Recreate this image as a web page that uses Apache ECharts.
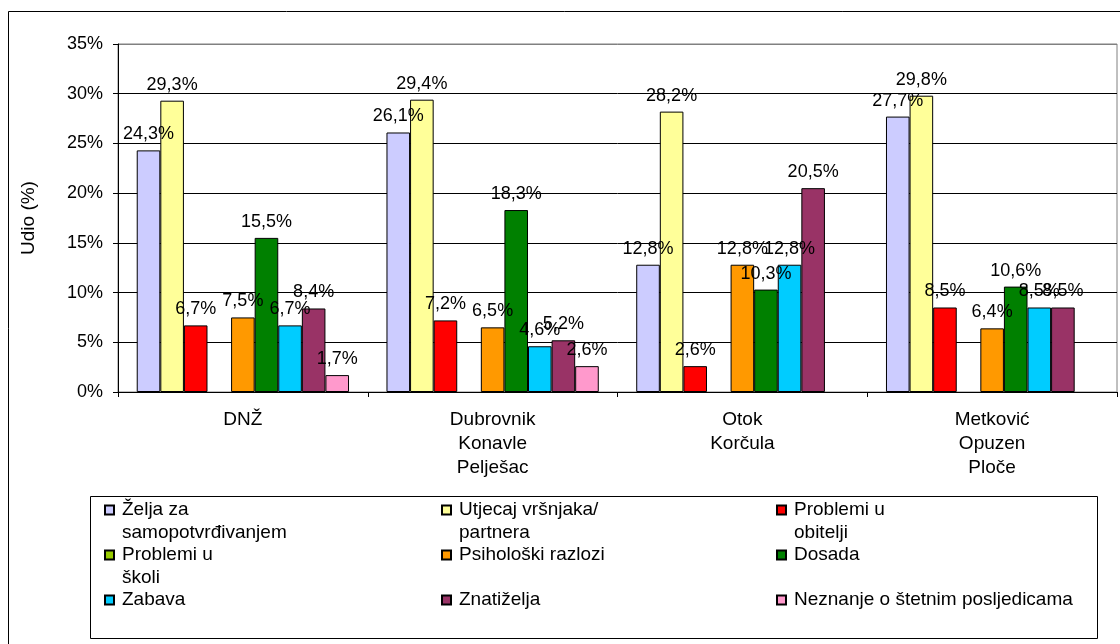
<!DOCTYPE html>
<html>
<head>
<meta charset="utf-8">
<script src="https://cdn.jsdelivr.net/npm/echarts@6/dist/echarts.min.js"></script>
<style>
  html, body { margin: 0; padding: 0; background: #fff; }
  #chart { width: 1120px; height: 644px; }
</style>
</head>
<body>
<div id="chart"></div>
<script>
// categories (regions)
var categories = ['DNŽ', 'Dubrovnik\nKonavle\nPelješac', 'Otok\nKorčula', 'Metković\nOpuzen\nPloče'];

// series names + wrapped legend text
var seriesNames = [
  'Želja za samopotvrđivanjem', 'Utjecaj vršnjaka/partnera', 'Problemi u obitelji',
  'Problemi u školi', 'Psihološki razlozi', 'Dosada',
  'Zabava', 'Znatiželja', 'Neznanje o štetnim posljedicama'
];
var legendText = [
  'Želja za\nsamopotvrđivanjem', 'Utjecaj vršnjaka/\npartnera', 'Problemi u\nobitelji',
  'Problemi u\nškoli', 'Psihološki razlozi', 'Dosada',
  'Zabava', 'Znatiželja', 'Neznanje o štetnim posljedicama'
];

// values in % per region
var zelja      = [24.3, 26.1, 12.8, 27.7];
var utjecaj    = [29.3, 29.4, 28.2, 29.8];
var obitelj    = [6.7, 7.2, 2.6, 8.5];
var skola      = [null, null, null, null];
var psiholoski = [7.5, 6.5, 12.8, 6.4];
var dosada     = [15.5, 18.3, 10.3, 10.6];
var zabava     = [6.7, 4.6, 12.8, 8.5];
var znatizelja = [8.4, 5.2, 20.5, 8.5];
var neznanje   = [1.7, 2.6, null, null];

var seriesData = [zelja, utjecaj, obitelj, skola, psiholoski, dosada, zabava, znatizelja, neznanje];
var colors = ['#CCCCFF', '#FFFF99', '#FF0000', '#99CC00', '#FF9900', '#008000', '#00CCFF', '#993366', '#FF99CC'];

var yTicks = [0, 5, 10, 15, 20, 25, 30, 35];

var font = "'Liberation Sans', Arial, sans-serif";

var chart = echarts.init(document.getElementById('chart'));

var series = [];
for (var i = 0; i < seriesData.length; i++) {
  series.push({
    name: seriesNames[i],
    type: 'bar',
    data: seriesData[i],
    barGap: 0,
    barCategoryGap: '15%',
    itemStyle: { color: colors[i], borderColor: '#000', borderWidth: 1 },
    label: {
      show: true,
      position: 'top',
      distance: 7,
      color: '#000',
      fontSize: 18,
      fontFamily: font,
      formatter: function (p) {
        return p.value.toFixed(1).replace('.', ',') + '%';
      }
    }
  });
}

// legend: one component per item so the 3 columns line up like the original
var colX = [104, 441, 776];
var rowY = [510, 555, 600];
var lineH = 22.5;
var legends = [];
for (var k = 0; k < seriesNames.length; k++) {
  var col = k % 3, row = Math.floor(k / 3);
  var twoLines = legendText[k].indexOf('\n') >= 0;
  legends.push({
    data: [seriesNames[k]],
    left: colX[col],
    top: rowY[row] - (twoLines ? 1.5 * lineH : 0.5 * lineH),
    padding: 0,
    itemWidth: 9,
    itemHeight: 9,
    icon: 'rect',
    selectedMode: false,
    textStyle: { fontSize: 19, fontFamily: font, color: '#000', lineHeight: lineH, padding: [0, 0, 0, 3] },
    formatter: (function (t) {
      return function () { return t.indexOf('\n') >= 0 ? '\n' + t : t; };
    })(legendText[k])
  });
}

var option = {
  animation: false,
  color: colors,
  textStyle: { fontFamily: font },
  graphic: [
    { type: 'rect', shape: { x: 8.5, y: 11.5, width: 1200, height: 700 },
      style: { fill: 'none', stroke: '#000', lineWidth: 1 }, z: -1 },
    { type: 'rect', shape: { x: 90.5, y: 496.5, width: 1007, height: 142 },
      style: { fill: 'none', stroke: '#000', lineWidth: 1 }, z: -1 }
  ],
  legend: legends,
  grid: {
    left: 118, right: 3, top: 44, bottom: 252,
    show: true, borderColor: '#808080', borderWidth: 1
  },
  xAxis: {
    type: 'category',
    data: categories,
    axisLine: { lineStyle: { color: '#000', width: 1 } },
    axisTick: { show: true, length: 5, lineStyle: { color: '#000' } },
    axisLabel: { color: '#000', fontSize: 19, fontFamily: font, lineHeight: 24, margin: 16 }
  },
  yAxis: {
    type: 'value',
    min: 0,
    max: 35,
    interval: 5,
    name: 'Udio (%)',
    nameLocation: 'middle',
    nameGap: 80,
    nameTextStyle: { color: '#000', fontSize: 19, fontFamily: font },
    axisLine: { show: true, lineStyle: { color: '#000', width: 1 } },
    axisTick: { show: true, length: 5, lineStyle: { color: '#000' } },
    axisLabel: {
      color: '#000', fontSize: 18, fontFamily: font, margin: 15,
      formatter: function (v) { return yTicks.indexOf(v) >= 0 ? v + '%' : ''; }
    },
    splitLine: {
      show: true,
      lineStyle: { color: ['#000', '#000', '#000', '#000', '#000', '#000', '#000', '#808080'], width: 1 }
    }
  },
  series: series
};

chart.setOption(option);
</script>
</body>
</html>
